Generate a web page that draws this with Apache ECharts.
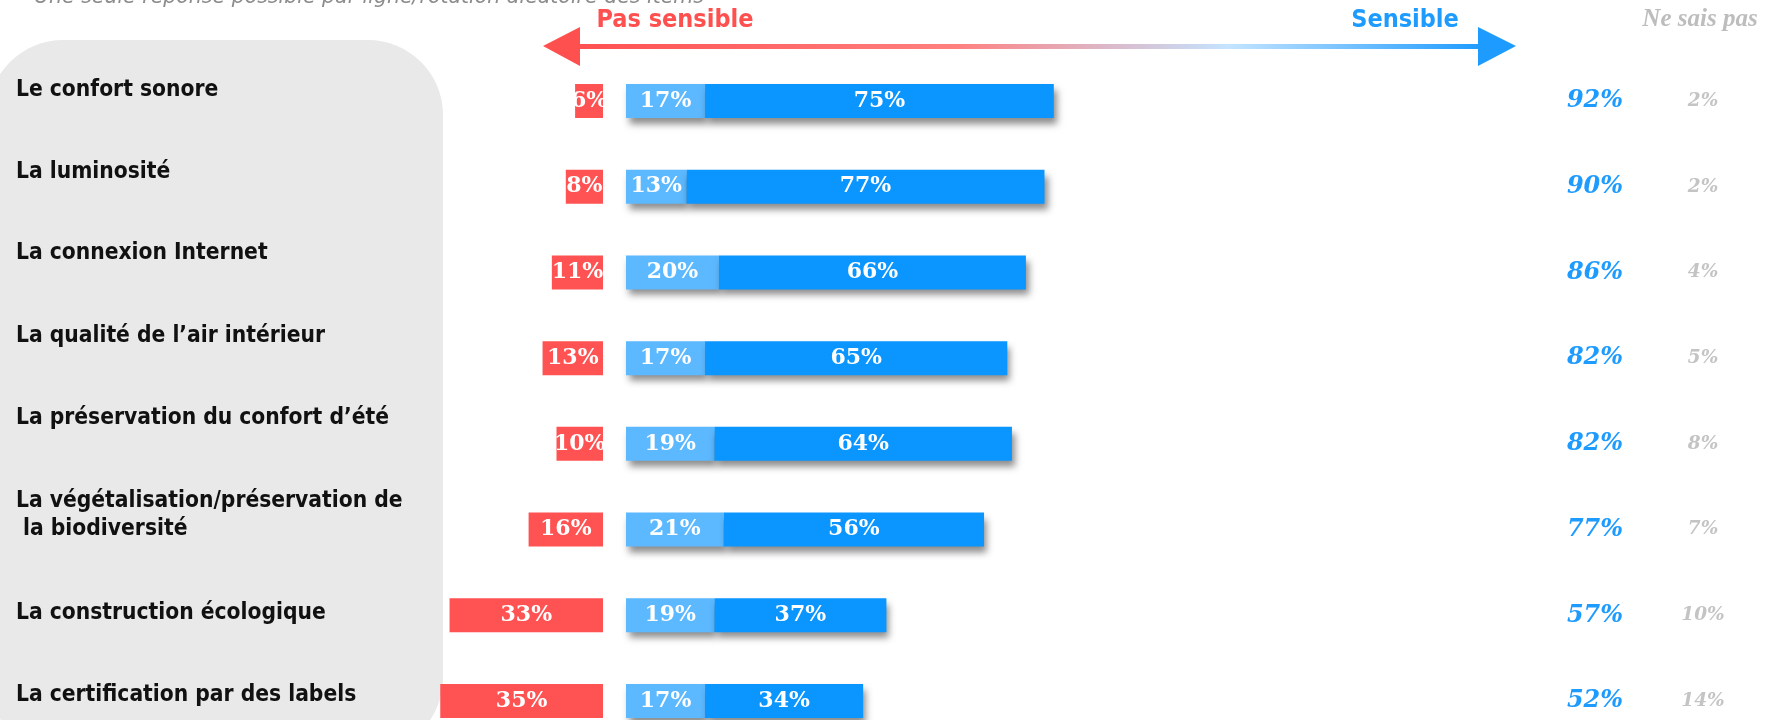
<!DOCTYPE html>
<html>
<head>
<meta charset="utf-8">
<script src="https://cdn.jsdelivr.net/npm/echarts@6/dist/echarts.min.js"></script>
<style>
  html, body { margin: 0; padding: 0; background: #fff; }
  #chart { width: 1772px; height: 720px; }
</style>
</head>
<body>
<div id="chart"></div>
<script>
const categories = [
  'Le confort sonore',
  'La luminosité',
  'La connexion Internet',
  'La qualité de l’air intérieur',
  'La préservation du confort d’été',
  'La végétalisation/préservation de\n la biodiversité',
  'La construction écologique',
  'La certification par des labels'
]
const pasSensible = [6, 8, 11, 13, 10, 16, 33, 35]
const plutotSensible = [17, 13, 20, 17, 19, 21, 19, 17]
const tresSensible = [75, 77, 66, 65, 64, 56, 37, 34]
const totalSensible = [92, 90, 86, 82, 82, 77, 57, 52]
const neSaisPas = [2, 2, 4, 5, 8, 7, 10, 14]

// décalage vertical des libellés (les zones de texte ne sont pas calées sur les barres)
const labelNudge = [11, 15, 19, 22, 26, 14, 2, 6]

const chart = echarts.init(document.getElementById('chart'))

const barLabel = {
  show: true,
  position: 'inside',
  color: '#fff',
  fontFamily: 'DejaVu Serif',
  fontWeight: 'bold',
  fontSize: 22,
  formatter: (p) => p.value + '%'
}
const blueShadow = {
  shadowColor: 'rgba(0,0,0,0.45)',
  shadowBlur: 7,
  shadowOffsetX: 3,
  shadowOffsetY: 6
}

const staticGraphic = [
  {
    id: 'panel',
    type: 'rect',
    z: -10,
    shape: { x: -12, y: 40, width: 455, height: 713, r: 75 },
    style: { fill: '#E9E9E9' }
  },
  {
    id: 'subtitle',
    type: 'text',
    left: 34,
    top: -12,
    style: {
      text: 'Une seule réponse possible par ligne/rotation aléatoire des items',
      fill: '#8C8C8C',
      font: 'italic 20.5px "DejaVu Sans"'
    }
  },
  {
    id: 'arrowLine',
    type: 'rect',
    shape: { x: 576, y: 44, width: 906, height: 5 },
    style: {
      fill: new echarts.graphic.LinearGradient(0, 0, 1, 0, [
        { offset: 0, color: '#FF5050' },
        { offset: 0.42, color: '#FF8080' },
        { offset: 0.58, color: '#DDB6C6' },
        { offset: 0.72, color: '#C4E4FF' },
        { offset: 1, color: '#1E9BFF' }
      ])
    }
  },
  {
    id: 'arrowLeft',
    type: 'polygon',
    shape: { points: [[543, 46], [580, 27], [580, 66]] },
    style: { fill: '#FF5050' }
  },
  {
    id: 'arrowRight',
    type: 'polygon',
    shape: { points: [[1516, 46], [1478, 27], [1478, 66]] },
    style: { fill: '#1E9BFF' }
  },
  {
    id: 'pasSensible',
    type: 'text',
    x: 675,
    y: 20,
    style: {
      text: 'Pas sensible',
      fill: '#FF5050',
      font: 'bold 25px "DejaVu Sans Condensed"',
      textAlign: 'center',
      textVerticalAlign: 'middle'
    }
  },
  {
    id: 'sensible',
    type: 'text',
    x: 1405,
    y: 20,
    style: {
      text: 'Sensible',
      fill: '#1E9BFF',
      font: 'bold 25px "DejaVu Sans Condensed"',
      textAlign: 'center',
      textVerticalAlign: 'middle'
    }
  },
  {
    id: 'nsp',
    type: 'text',
    x: 1700,
    y: 20,
    style: {
      text: 'Ne sais pas',
      fill: '#BDBDBD',
      font: 'italic bold 25px "Liberation Serif"',
      textAlign: 'center',
      textVerticalAlign: 'middle'
    }
  }
]

chart.setOption({
  animation: false,
  grid: [
    // côté "pas sensible"
    { left: 417, width: 186, top: 101, height: 600 },
    // côté "sensible"
    { left: 626, width: 465, top: 101, height: 600 }
  ],
  xAxis: [
    { gridIndex: 0, type: 'value', min: 0, max: 40, inverse: true, show: false },
    { gridIndex: 1, type: 'value', min: 0, max: 100, show: false }
  ],
  yAxis: [
    {
      gridIndex: 0,
      type: 'category',
      inverse: true,
      boundaryGap: false,
      data: categories,
      show: false
    },
    {
      gridIndex: 1,
      type: 'category',
      inverse: true,
      boundaryGap: false,
      data: categories,
      show: false
    },
    {
      // total sensible
      gridIndex: 1,
      type: 'category',
      inverse: true,
      boundaryGap: false,
      position: 'right',
      data: totalSensible.map((v) => v + '%'),
      axisLine: { show: false },
      axisTick: { show: false },
      axisLabel: {
        align: 'center',
        margin: 504,
        color: '#1E9BFF',
        fontFamily: 'DejaVu Serif',
        fontStyle: 'italic',
        fontWeight: 'bold',
        fontSize: 24,
        padding: [0, 0, 2, 0]
      }
    },
    {
      // ne sais pas
      gridIndex: 1,
      type: 'category',
      inverse: true,
      boundaryGap: false,
      position: 'right',
      data: neSaisPas.map((v) => v + '%'),
      axisLine: { show: false },
      axisTick: { show: false },
      axisLabel: {
        align: 'center',
        margin: 612,
        color: '#C4C4C4',
        fontFamily: 'DejaVu Serif',
        fontStyle: 'italic',
        fontWeight: 'bold',
        fontSize: 18.5,
        padding: [0, 0, 10, 0]
      }
    }
  ],
  series: [
    {
      name: 'Pas sensible',
      type: 'bar',
      xAxisIndex: 0,
      yAxisIndex: 0,
      barWidth: 34,
      itemStyle: { color: '#FF5252' },
      label: barLabel,
      data: pasSensible
    },
    {
      name: 'Plutôt sensible',
      type: 'bar',
      stack: 'sensible',
      xAxisIndex: 1,
      yAxisIndex: 1,
      barWidth: 34,
      itemStyle: Object.assign({ color: '#5CB8FF' }, blueShadow),
      label: barLabel,
      data: plutotSensible
    },
    {
      name: 'Très sensible',
      type: 'bar',
      stack: 'sensible',
      xAxisIndex: 1,
      yAxisIndex: 1,
      barWidth: 34,
      itemStyle: Object.assign({ color: '#0A95FF' }, blueShadow),
      label: barLabel,
      data: tresSensible
    }
  ],
  graphic: staticGraphic
})

// libellés des items, placés à partir de l'axe des catégories
const itemLabels = categories.map((name, i) => {
  const y = chart.convertToPixel({ yAxisIndex: 0 }, i)
  return {
    id: 'item' + i,
    type: 'text',
    x: 16,
    y: y - labelNudge[i],
    style: {
      text: name,
      fill: '#111',
      font: 'bold 22.6px "DejaVu Sans Condensed"',
      lineHeight: 28,
      textAlign: 'left',
      textVerticalAlign: 'middle'
    }
  }
})
chart.setOption({ graphic: staticGraphic.concat(itemLabels) })
</script>
</body>
</html>
